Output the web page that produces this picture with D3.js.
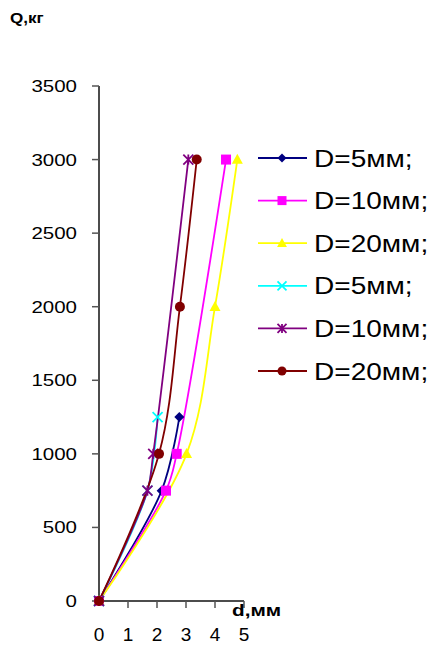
<!DOCTYPE html>
<html>
<head>
<meta charset="utf-8">
<script src="https://cdn.jsdelivr.net/npm/d3@7"></script>
<style>
  body { margin: 0; background: #fff; }
  svg { display: block; font-family: Arial, "Liberation Sans", sans-serif; }
</style>
</head>
<body>
<svg></svg>
<script>
// Dados (d em mm, Q em kg)
const seriesNames = ["D=5мм;", "D=10мм;", "D=20мм;", "D=5мм;", "D=10мм;", "D=20мм;"];
const seriesColors = ["#000080", "#ff00ff", "#ffff00", "#00ffff", "#800080", "#800000"];
const seriesMarkers = ["diamond", "square", "triangle", "cross", "star", "circle"];

const s1d = [0, 2.16, 2.77];        const s1q = [0, 750, 1250];
const s2d = [0, 2.31, 2.68, 4.38];  const s2q = [0, 750, 1000, 3000];
const s3d = [0, 3.02, 4.0, 4.77];   const s3q = [0, 1000, 2000, 3000];
const s4d = [0, 1.67, 2.02];        const s4q = [0, 750, 1250];
const s5d = [0, 1.67, 1.87, 3.08];  const s5q = [0, 750, 1000, 3000];
const s6d = [0, 2.07, 2.79, 3.37];  const s6q = [0, 1000, 2000, 3000];

const xTicks = [0, 1, 2, 3, 4, 5];
const yTicks = [0, 500, 1000, 1500, 2000, 2500, 3000, 3500];

const allD = [s1d, s2d, s3d, s4d, s5d, s6d];
const allQ = [s1q, s2q, s3q, s4q, s5q, s6q];
const series = allD.map((ds, i) => ({
  name: seriesNames[i],
  color: seriesColors[i],
  marker: seriesMarkers[i],
  points: ds.map((d, j) => ({ d: d, q: allQ[i][j] }))
}));

const width = 432, height = 645;
const svg = d3.select("svg").attr("width", width).attr("height", height);

// Escalas
const x = d3.scaleLinear().domain([0, 5]).range([99, 244]);
const y = d3.scaleLinear().domain([0, 3500]).range([601, 86]);

// Texto esticado na horizontal, como no original
function stretchedText(g, tx, ty, txt, size, sx, anchor, weight) {
  g.append("g")
    .attr("transform", `translate(${tx},${ty}) scale(${sx},1)`)
    .append("text")
    .attr("text-anchor", anchor)
    .attr("font-size", size)
    .attr("font-weight", weight || "normal")
    .attr("fill", "#000")
    .text(txt);
}

// Eixos
const axes = svg.append("g");
axes.append("line")
  .attr("x1", x(0)).attr("x2", x(0)).attr("y1", y(3500)).attr("y2", y(0))
  .attr("stroke", "#111").attr("stroke-width", 1.5);
axes.append("line")
  .attr("x1", x(0)).attr("x2", x(5)).attr("y1", y(0)).attr("y2", y(0))
  .attr("stroke", "#111").attr("stroke-width", 1.5);

yTicks.forEach(t => {
  axes.append("line")
    .attr("x1", x(0) - 7).attr("x2", x(0)).attr("y1", y(t)).attr("y2", y(t))
    .attr("stroke", "#555").attr("stroke-width", 1.5);
  stretchedText(axes, 77, y(t) + 6, String(t), 16, 1.28, "end");
});

xTicks.forEach(t => {
  if (t > 0) {
    axes.append("line")
      .attr("x1", x(t)).attr("x2", x(t)).attr("y1", y(0)).attr("y2", y(0) + 7)
      .attr("stroke", "#555").attr("stroke-width", 1.5);
  }
  stretchedText(axes, x(t), 641, String(t), 19, 1.0, "middle");
});

// Títulos dos eixos
stretchedText(svg, 10, 23, "Q,кг", 14, 1.22, "start", "bold");
stretchedText(svg, 232, 616, "d,мм", 16, 1.3, "start", "bold");

// Símbolos
function drawMarker(g, type, cx, cy, color, s) {
  if (type === "diamond") {
    g.append("path")
      .attr("d", `M${cx},${cy - s}L${cx + s},${cy}L${cx},${cy + s}L${cx - s},${cy}Z`)
      .attr("fill", color);
  } else if (type === "square") {
    g.append("rect")
      .attr("x", cx - s).attr("y", cy - s).attr("width", 2 * s).attr("height", 2 * s)
      .attr("fill", color);
  } else if (type === "triangle") {
    g.append("path")
      .attr("d", `M${cx},${cy - s * 1.15}L${cx + s * 1.1},${cy + s * 0.85}L${cx - s * 1.1},${cy + s * 0.85}Z`)
      .attr("fill", color);
  } else if (type === "cross") {
    g.append("path")
      .attr("d", `M${cx - s},${cy - s}L${cx + s},${cy + s}M${cx - s},${cy + s}L${cx + s},${cy - s}`)
      .attr("stroke", color).attr("stroke-width", 1.8).attr("fill", "none");
  } else if (type === "star") {
    g.append("path")
      .attr("d", `M${cx - s},${cy - s}L${cx + s},${cy + s}M${cx - s},${cy + s}L${cx + s},${cy - s}M${cx},${cy - s}L${cx},${cy + s}`)
      .attr("stroke", color).attr("stroke-width", 1.8).attr("fill", "none");
  } else {
    g.append("circle").attr("cx", cx).attr("cy", cy).attr("r", s).attr("fill", color);
  }
}

// Linhas suavizadas
const line = d3.line()
  .x(p => x(p.d))
  .y(p => y(p.q))
  .curve(d3.curveCatmullRom.alpha(0.5));

const plot = svg.append("g");
series.forEach(s => {
  plot.append("path")
    .attr("d", line(s.points))
    .attr("fill", "none")
    .attr("stroke", s.color)
    .attr("stroke-width", 1.8);
});
series.forEach(s => {
  s.points.forEach(p => drawMarker(plot, s.marker, x(p.d), y(p.q), s.color, 5));
});

// Legenda
const legend = svg.append("g");
series.forEach((s, i) => {
  const ly = 158 + i * 42.6;
  legend.append("line")
    .attr("x1", 258).attr("x2", 307).attr("y1", ly).attr("y2", ly)
    .attr("stroke", s.color).attr("stroke-width", 1.8);
  drawMarker(legend, s.marker, 282, ly, s.color, 4.5);
  stretchedText(legend, 314, ly + 8.5, s.name, 23, 1.22, "start");
});
</script>
</body>
</html>
